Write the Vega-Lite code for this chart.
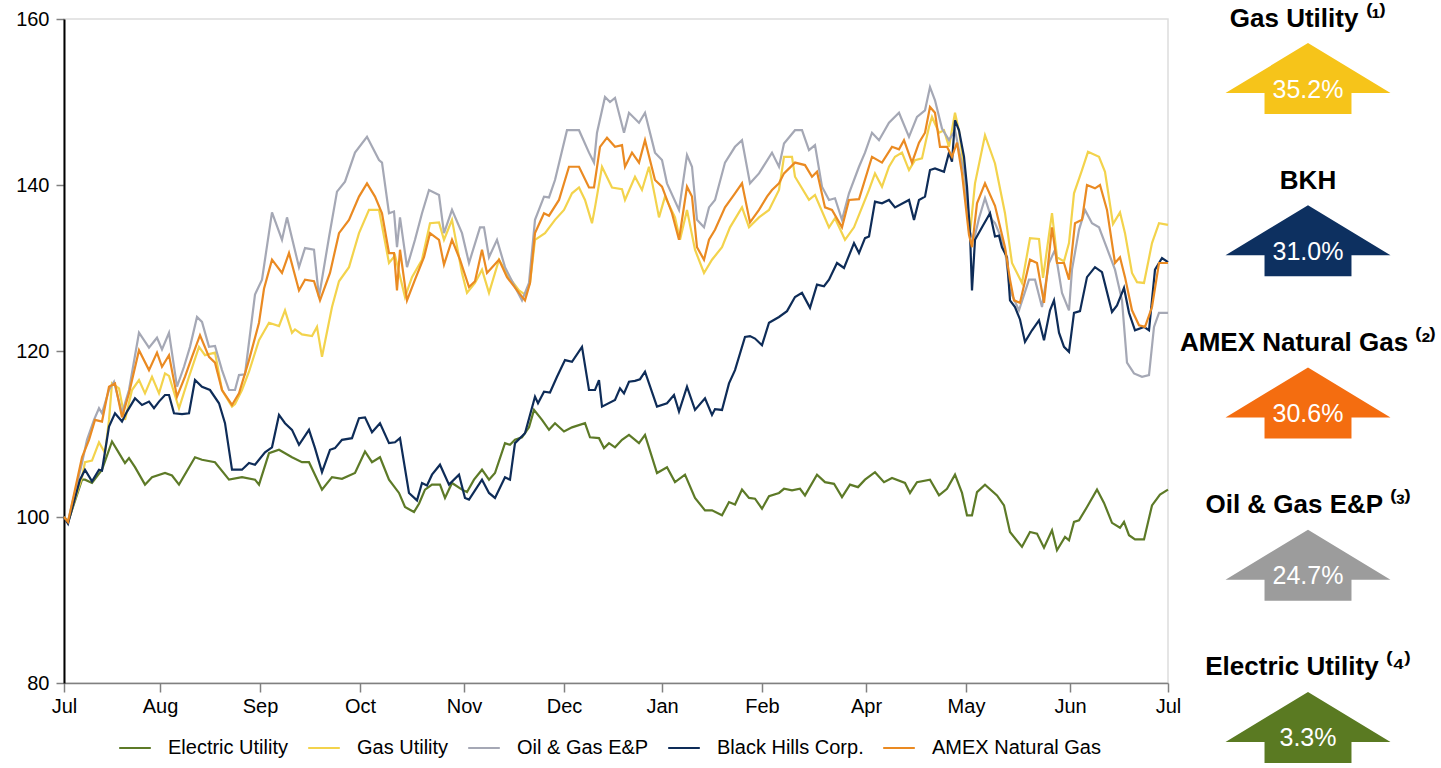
{
"$schema": "https://vega.github.io/schema/vega-lite/v6.json",
"padding": {"left": 14, "top": 5, "right": 0, "bottom": 0},
"background": "white",
"spacing": 10,
"bounds": "flush",
"config": {
 "font": "Liberation Sans",
 "view": {"stroke": "#dddddd", "strokeWidth": 1.5},
 "axis": {"labelFont": "Liberation Sans", "labelFontSize": 20, "labelColor": "#000000", "grid": false, "title": null}
},
"resolve": {"scale": {"color": "independent"}},
"datasets": {
"lines": [
{"series":"Electric Utility","month":0,"index":100},{"series":"Electric Utility","month":0.04,"index":99.4},{"series":"Electric Utility","month":0.18,"index":104.5},{"series":"Electric Utility","month":0.21,"index":104.5},{"series":"Electric Utility","month":0.28,"index":104.1},{"series":"Electric Utility","month":0.38,"index":105.7},{"series":"Electric Utility","month":0.48,"index":109.1},{"series":"Electric Utility","month":0.55,"index":107.7},{"series":"Electric Utility","month":0.61,"index":106.5},{"series":"Electric Utility","month":0.65,"index":107.1},{"series":"Electric Utility","month":0.71,"index":106.0},{"series":"Electric Utility","month":0.81,"index":103.9},{"series":"Electric Utility","month":0.88,"index":104.8},{"series":"Electric Utility","month":1.01,"index":105.3},{"series":"Electric Utility","month":1.08,"index":105.0},{"series":"Electric Utility","month":1.15,"index":103.9},{"series":"Electric Utility","month":1.31,"index":107.2},{"series":"Electric Utility","month":1.38,"index":106.9},{"series":"Electric Utility","month":1.51,"index":106.6},{"series":"Electric Utility","month":1.65,"index":104.5},{"series":"Electric Utility","month":1.78,"index":104.8},{"series":"Electric Utility","month":1.91,"index":104.5},{"series":"Electric Utility","month":1.95,"index":103.9},{"series":"Electric Utility","month":2.05,"index":107.7},{"series":"Electric Utility","month":2.15,"index":108.1},{"series":"Electric Utility","month":2.28,"index":107.2},{"series":"Electric Utility","month":2.38,"index":106.6},{"series":"Electric Utility","month":2.45,"index":106.6},{"series":"Electric Utility","month":2.58,"index":103.3},{"series":"Electric Utility","month":2.68,"index":104.8},{"series":"Electric Utility","month":2.78,"index":104.6},{"series":"Electric Utility","month":2.91,"index":105.3},{"series":"Electric Utility","month":3.01,"index":107.9},{"series":"Electric Utility","month":3.08,"index":106.6},{"series":"Electric Utility","month":3.16,"index":107.2},{"series":"Electric Utility","month":3.25,"index":104.5},{"series":"Electric Utility","month":3.35,"index":102.9},{"series":"Electric Utility","month":3.41,"index":101.2},{"series":"Electric Utility","month":3.50,"index":100.6},{"series":"Electric Utility","month":3.55,"index":101.6},{"series":"Electric Utility","month":3.61,"index":103.3},{"series":"Electric Utility","month":3.68,"index":103.9},{"series":"Electric Utility","month":3.76,"index":103.9},{"series":"Electric Utility","month":3.81,"index":102.3},{"series":"Electric Utility","month":3.88,"index":104.1},{"series":"Electric Utility","month":3.98,"index":103.3},{"series":"Electric Utility","month":4.03,"index":103.0},{"series":"Electric Utility","month":4.10,"index":104.5},{"series":"Electric Utility","month":4.18,"index":105.7},{"series":"Electric Utility","month":4.25,"index":104.5},{"series":"Electric Utility","month":4.31,"index":105.3},{"series":"Electric Utility","month":4.41,"index":108.9},{"series":"Electric Utility","month":4.46,"index":108.7},{"series":"Electric Utility","month":4.51,"index":109.3},{"series":"Electric Utility","month":4.58,"index":109.6},{"series":"Electric Utility","month":4.65,"index":110.8},{"series":"Electric Utility","month":4.70,"index":112.9},{"series":"Electric Utility","month":4.78,"index":111.7},{"series":"Electric Utility","month":4.85,"index":110.5},{"series":"Electric Utility","month":4.91,"index":111.3},{"series":"Electric Utility","month":5.00,"index":110.3},{"series":"Electric Utility","month":5.08,"index":110.8},{"series":"Electric Utility","month":5.21,"index":111.3},{"series":"Electric Utility","month":5.26,"index":109.6},{"series":"Electric Utility","month":5.35,"index":109.5},{"series":"Electric Utility","month":5.40,"index":108.3},{"series":"Electric Utility","month":5.45,"index":108.9},{"series":"Electric Utility","month":5.51,"index":108.4},{"series":"Electric Utility","month":5.58,"index":109.3},{"series":"Electric Utility","month":5.65,"index":109.9},{"series":"Electric Utility","month":5.75,"index":108.9},{"series":"Electric Utility","month":5.81,"index":109.9},{"series":"Electric Utility","month":5.93,"index":105.3},{"series":"Electric Utility","month":6.03,"index":106.0},{"series":"Electric Utility","month":6.11,"index":104.2},{"series":"Electric Utility","month":6.21,"index":105.1},{"series":"Electric Utility","month":6.31,"index":102.3},{"series":"Electric Utility","month":6.41,"index":100.8},{"series":"Electric Utility","month":6.48,"index":100.8},{"series":"Electric Utility","month":6.58,"index":100.2},{"series":"Electric Utility","month":6.65,"index":101.8},{"series":"Electric Utility","month":6.71,"index":101.5},{"series":"Electric Utility","month":6.78,"index":103.3},{"series":"Electric Utility","month":6.85,"index":102.3},{"series":"Electric Utility","month":6.91,"index":102.2},{"series":"Electric Utility","month":6.98,"index":101.0},{"series":"Electric Utility","month":7.05,"index":102.5},{"series":"Electric Utility","month":7.15,"index":102.9},{"series":"Electric Utility","month":7.20,"index":103.4},{"series":"Electric Utility","month":7.28,"index":103.2},{"series":"Electric Utility","month":7.36,"index":103.4},{"series":"Electric Utility","month":7.41,"index":102.6},{"series":"Electric Utility","month":7.53,"index":105.1},{"series":"Electric Utility","month":7.61,"index":104.2},{"series":"Electric Utility","month":7.70,"index":104.0},{"series":"Electric Utility","month":7.78,"index":102.4},{"series":"Electric Utility","month":7.86,"index":103.9},{"series":"Electric Utility","month":7.94,"index":103.6},{"series":"Electric Utility","month":8.01,"index":104.5},{"series":"Electric Utility","month":8.11,"index":105.4},{"series":"Electric Utility","month":8.20,"index":104.2},{"series":"Electric Utility","month":8.28,"index":104.7},{"series":"Electric Utility","month":8.41,"index":104.1},{"series":"Electric Utility","month":8.46,"index":102.9},{"series":"Electric Utility","month":8.53,"index":104.2},{"series":"Electric Utility","month":8.66,"index":104.5},{"series":"Electric Utility","month":8.75,"index":102.6},{"series":"Electric Utility","month":8.83,"index":103.4},{"series":"Electric Utility","month":8.91,"index":105.1},{"series":"Electric Utility","month":8.98,"index":102.9},{"series":"Electric Utility","month":9.03,"index":100.2},{"series":"Electric Utility","month":9.08,"index":100.2},{"series":"Electric Utility","month":9.13,"index":103.0},{"series":"Electric Utility","month":9.21,"index":103.9},{"series":"Electric Utility","month":9.33,"index":102.6},{"series":"Electric Utility","month":9.40,"index":101.4},{"series":"Electric Utility","month":9.46,"index":98.2},{"series":"Electric Utility","month":9.58,"index":96.4},{"series":"Electric Utility","month":9.66,"index":98.2},{"series":"Electric Utility","month":9.73,"index":98.0},{"series":"Electric Utility","month":9.80,"index":96.3},{"series":"Electric Utility","month":9.88,"index":98.4},{"series":"Electric Utility","month":9.93,"index":96.0},{"series":"Electric Utility","month":10.01,"index":97.6},{"series":"Electric Utility","month":10.05,"index":97.2},{"series":"Electric Utility","month":10.10,"index":99.4},{"series":"Electric Utility","month":10.15,"index":99.6},{"series":"Electric Utility","month":10.23,"index":101.2},{"series":"Electric Utility","month":10.33,"index":103.3},{"series":"Electric Utility","month":10.40,"index":101.7},{"series":"Electric Utility","month":10.48,"index":99.3},{"series":"Electric Utility","month":10.56,"index":98.7},{"series":"Electric Utility","month":10.60,"index":99.4},{"series":"Electric Utility","month":10.65,"index":97.8},{"series":"Electric Utility","month":10.71,"index":97.3},{"series":"Electric Utility","month":10.80,"index":97.3},{"series":"Electric Utility","month":10.88,"index":101.4},{"series":"Electric Utility","month":10.96,"index":102.7},{"series":"Electric Utility","month":11.04,"index":103.3},
{"series":"Gas Utility","month":0,"index":100},{"series":"Gas Utility","month":0.04,"index":99.5},{"series":"Gas Utility","month":0.18,"index":104.8},{"series":"Gas Utility","month":0.21,"index":106.6},{"series":"Gas Utility","month":0.28,"index":106.8},{"series":"Gas Utility","month":0.35,"index":109.0},{"series":"Gas Utility","month":0.41,"index":107.7},{"series":"Gas Utility","month":0.45,"index":111.7},{"series":"Gas Utility","month":0.48,"index":116.1},{"series":"Gas Utility","month":0.55,"index":115.5},{"series":"Gas Utility","month":0.61,"index":111.7},{"series":"Gas Utility","month":0.68,"index":115.3},{"series":"Gas Utility","month":0.75,"index":116.5},{"series":"Gas Utility","month":0.81,"index":114.9},{"series":"Gas Utility","month":0.88,"index":116.9},{"series":"Gas Utility","month":0.95,"index":114.9},{"series":"Gas Utility","month":1.01,"index":117.3},{"series":"Gas Utility","month":1.05,"index":117.0},{"series":"Gas Utility","month":1.15,"index":113.1},{"series":"Gas Utility","month":1.25,"index":116.9},{"series":"Gas Utility","month":1.35,"index":120.5},{"series":"Gas Utility","month":1.41,"index":119.5},{"series":"Gas Utility","month":1.51,"index":119.8},{"series":"Gas Utility","month":1.58,"index":115.3},{"series":"Gas Utility","month":1.68,"index":113.3},{"series":"Gas Utility","month":1.71,"index":113.6},{"series":"Gas Utility","month":1.78,"index":115.3},{"series":"Gas Utility","month":1.85,"index":117.5},{"series":"Gas Utility","month":1.95,"index":121.3},{"series":"Gas Utility","month":2.05,"index":123.4},{"series":"Gas Utility","month":2.15,"index":123.0},{"series":"Gas Utility","month":2.21,"index":124.9},{"series":"Gas Utility","month":2.28,"index":122.2},{"series":"Gas Utility","month":2.31,"index":122.6},{"series":"Gas Utility","month":2.38,"index":122.0},{"series":"Gas Utility","month":2.48,"index":121.8},{"series":"Gas Utility","month":2.53,"index":122.9},{"series":"Gas Utility","month":2.58,"index":119.3},{"series":"Gas Utility","month":2.68,"index":125.3},{"series":"Gas Utility","month":2.75,"index":128.4},{"series":"Gas Utility","month":2.85,"index":130.1},{"series":"Gas Utility","month":2.95,"index":134.2},{"series":"Gas Utility","month":3.05,"index":137.0},{"series":"Gas Utility","month":3.15,"index":137.0},{"series":"Gas Utility","month":3.25,"index":130.6},{"series":"Gas Utility","month":3.31,"index":131.5},{"series":"Gas Utility","month":3.41,"index":126.5},{"series":"Gas Utility","month":3.48,"index":128.9},{"series":"Gas Utility","month":3.58,"index":131.0},{"series":"Gas Utility","month":3.66,"index":135.4},{"series":"Gas Utility","month":3.75,"index":135.5},{"series":"Gas Utility","month":3.80,"index":133.4},{"series":"Gas Utility","month":3.88,"index":135.8},{"series":"Gas Utility","month":3.98,"index":129.4},{"series":"Gas Utility","month":4.03,"index":127.0},{"series":"Gas Utility","month":4.11,"index":128.2},{"series":"Gas Utility","month":4.18,"index":129.8},{"series":"Gas Utility","month":4.25,"index":127.0},{"series":"Gas Utility","month":4.35,"index":131.0},{"series":"Gas Utility","month":4.45,"index":128.9},{"series":"Gas Utility","month":4.55,"index":127.3},{"series":"Gas Utility","month":4.61,"index":126.8},{"series":"Gas Utility","month":4.66,"index":128.2},{"series":"Gas Utility","month":4.71,"index":133.4},{"series":"Gas Utility","month":4.81,"index":134.2},{"series":"Gas Utility","month":4.91,"index":135.8},{"series":"Gas Utility","month":5.00,"index":137.0},{"series":"Gas Utility","month":5.08,"index":139.0},{"series":"Gas Utility","month":5.15,"index":139.7},{"series":"Gas Utility","month":5.21,"index":138.2},{"series":"Gas Utility","month":5.28,"index":135.4},{"series":"Gas Utility","month":5.31,"index":137.3},{"series":"Gas Utility","month":5.38,"index":142.2},{"series":"Gas Utility","month":5.48,"index":139.7},{"series":"Gas Utility","month":5.58,"index":139.5},{"series":"Gas Utility","month":5.61,"index":138.2},{"series":"Gas Utility","month":5.71,"index":141.0},{"series":"Gas Utility","month":5.78,"index":139.4},{"series":"Gas Utility","month":5.85,"index":142.2},{"series":"Gas Utility","month":5.91,"index":138.6},{"series":"Gas Utility","month":5.95,"index":136.1},{"series":"Gas Utility","month":6.01,"index":138.6},{"series":"Gas Utility","month":6.11,"index":136.1},{"series":"Gas Utility","month":6.16,"index":133.4},{"series":"Gas Utility","month":6.23,"index":137.0},{"series":"Gas Utility","month":6.31,"index":132.2},{"series":"Gas Utility","month":6.40,"index":129.4},{"series":"Gas Utility","month":6.48,"index":131.0},{"series":"Gas Utility","month":6.58,"index":132.5},{"series":"Gas Utility","month":6.66,"index":134.9},{"series":"Gas Utility","month":6.78,"index":137.3},{"series":"Gas Utility","month":6.85,"index":134.9},{"series":"Gas Utility","month":6.95,"index":136.1},{"series":"Gas Utility","month":7.05,"index":137.0},{"series":"Gas Utility","month":7.15,"index":139.4},{"series":"Gas Utility","month":7.20,"index":143.4},{"series":"Gas Utility","month":7.28,"index":143.4},{"series":"Gas Utility","month":7.31,"index":141.0},{"series":"Gas Utility","month":7.45,"index":138.2},{"series":"Gas Utility","month":7.51,"index":138.8},{"series":"Gas Utility","month":7.65,"index":134.9},{"series":"Gas Utility","month":7.71,"index":136.0},{"series":"Gas Utility","month":7.81,"index":133.4},{"series":"Gas Utility","month":7.90,"index":134.9},{"series":"Gas Utility","month":7.98,"index":137.3},{"series":"Gas Utility","month":8.05,"index":139.4},{"series":"Gas Utility","month":8.11,"index":141.4},{"series":"Gas Utility","month":8.18,"index":139.8},{"series":"Gas Utility","month":8.25,"index":142.2},{"series":"Gas Utility","month":8.31,"index":143.4},{"series":"Gas Utility","month":8.38,"index":143.9},{"series":"Gas Utility","month":8.45,"index":141.8},{"series":"Gas Utility","month":8.51,"index":143.0},{"series":"Gas Utility","month":8.58,"index":143.2},{"series":"Gas Utility","month":8.65,"index":147.0},{"series":"Gas Utility","month":8.68,"index":148.2},{"series":"Gas Utility","month":8.75,"index":146.3},{"series":"Gas Utility","month":8.80,"index":146.6},{"series":"Gas Utility","month":8.85,"index":144.6},{"series":"Gas Utility","month":8.91,"index":148.7},{"series":"Gas Utility","month":8.95,"index":146.5},{"series":"Gas Utility","month":8.98,"index":143.9},{"series":"Gas Utility","month":9.06,"index":134.2},{"series":"Gas Utility","month":9.11,"index":140.2},{"series":"Gas Utility","month":9.21,"index":146.0},{"series":"Gas Utility","month":9.31,"index":142.6},{"series":"Gas Utility","month":9.41,"index":136.6},{"series":"Gas Utility","month":9.48,"index":130.6},{"series":"Gas Utility","month":9.58,"index":128.2},{"series":"Gas Utility","month":9.66,"index":133.6},{"series":"Gas Utility","month":9.75,"index":133.5},{"series":"Gas Utility","month":9.79,"index":128.8},{"series":"Gas Utility","month":9.88,"index":136.6},{"series":"Gas Utility","month":9.93,"index":131.3},{"series":"Gas Utility","month":10.00,"index":130.8},{"series":"Gas Utility","month":10.05,"index":133.0},{"series":"Gas Utility","month":10.10,"index":139.0},{"series":"Gas Utility","month":10.18,"index":141.8},{"series":"Gas Utility","month":10.24,"index":144.0},{"series":"Gas Utility","month":10.35,"index":143.4},{"series":"Gas Utility","month":10.41,"index":141.6},{"series":"Gas Utility","month":10.49,"index":135.3},{"series":"Gas Utility","month":10.56,"index":136.7},{"series":"Gas Utility","month":10.61,"index":134.2},{"series":"Gas Utility","month":10.68,"index":129.4},{"series":"Gas Utility","month":10.73,"index":128.3},{"series":"Gas Utility","month":10.80,"index":128.2},{"series":"Gas Utility","month":10.88,"index":133.0},{"series":"Gas Utility","month":10.95,"index":135.4},{"series":"Gas Utility","month":11.04,"index":135.2},
{"series":"Oil & Gas E&P","month":0,"index":100},{"series":"Oil & Gas E&P","month":0.04,"index":99.5},{"series":"Oil & Gas E&P","month":0.18,"index":106.5},{"series":"Oil & Gas E&P","month":0.23,"index":109.3},{"series":"Oil & Gas E&P","month":0.30,"index":111.7},{"series":"Oil & Gas E&P","month":0.35,"index":113.1},{"series":"Oil & Gas E&P","month":0.38,"index":112.5},{"series":"Oil & Gas E&P","month":0.45,"index":115.3},{"series":"Oil & Gas E&P","month":0.50,"index":116.3},{"series":"Oil & Gas E&P","month":0.58,"index":112.5},{"series":"Oil & Gas E&P","month":0.65,"index":115.3},{"series":"Oil & Gas E&P","month":0.75,"index":122.2},{"series":"Oil & Gas E&P","month":0.85,"index":120.4},{"series":"Oil & Gas E&P","month":0.93,"index":121.6},{"series":"Oil & Gas E&P","month":0.98,"index":120.2},{"series":"Oil & Gas E&P","month":1.05,"index":122.2},{"series":"Oil & Gas E&P","month":1.13,"index":115.7},{"series":"Oil & Gas E&P","month":1.20,"index":118.1},{"series":"Oil & Gas E&P","month":1.26,"index":120.5},{"series":"Oil & Gas E&P","month":1.33,"index":124.1},{"series":"Oil & Gas E&P","month":1.38,"index":123.5},{"series":"Oil & Gas E&P","month":1.45,"index":120.5},{"series":"Oil & Gas E&P","month":1.51,"index":120.6},{"series":"Oil & Gas E&P","month":1.58,"index":117.7},{"series":"Oil & Gas E&P","month":1.65,"index":115.3},{"series":"Oil & Gas E&P","month":1.71,"index":115.3},{"series":"Oil & Gas E&P","month":1.75,"index":117.1},{"series":"Oil & Gas E&P","month":1.81,"index":117.2},{"series":"Oil & Gas E&P","month":1.91,"index":126.8},{"series":"Oil & Gas E&P","month":1.98,"index":128.6},{"series":"Oil & Gas E&P","month":2.08,"index":136.7},{"series":"Oil & Gas E&P","month":2.18,"index":133.4},{"series":"Oil & Gas E&P","month":2.23,"index":136.1},{"series":"Oil & Gas E&P","month":2.35,"index":130.1},{"series":"Oil & Gas E&P","month":2.41,"index":132.4},{"series":"Oil & Gas E&P","month":2.50,"index":132.2},{"series":"Oil & Gas E&P","month":2.55,"index":126.5},{"series":"Oil & Gas E&P","month":2.65,"index":133.7},{"series":"Oil & Gas E&P","month":2.73,"index":139.2},{"series":"Oil & Gas E&P","month":2.81,"index":140.4},{"series":"Oil & Gas E&P","month":2.91,"index":143.9},{"series":"Oil & Gas E&P","month":3.03,"index":145.8},{"series":"Oil & Gas E&P","month":3.15,"index":143.0},{"series":"Oil & Gas E&P","month":3.18,"index":142.7},{"series":"Oil & Gas E&P","month":3.25,"index":136.6},{"series":"Oil & Gas E&P","month":3.30,"index":136.8},{"series":"Oil & Gas E&P","month":3.33,"index":132.5},{"series":"Oil & Gas E&P","month":3.36,"index":136.1},{"series":"Oil & Gas E&P","month":3.43,"index":130.1},{"series":"Oil & Gas E&P","month":3.51,"index":133.4},{"series":"Oil & Gas E&P","month":3.58,"index":136.6},{"series":"Oil & Gas E&P","month":3.65,"index":139.4},{"series":"Oil & Gas E&P","month":3.75,"index":138.8},{"series":"Oil & Gas E&P","month":3.80,"index":134.2},{"series":"Oil & Gas E&P","month":3.88,"index":137.0},{"series":"Oil & Gas E&P","month":3.98,"index":134.2},{"series":"Oil & Gas E&P","month":4.05,"index":130.6},{"series":"Oil & Gas E&P","month":4.16,"index":134.9},{"series":"Oil & Gas E&P","month":4.20,"index":134.9},{"series":"Oil & Gas E&P","month":4.25,"index":131.3},{"series":"Oil & Gas E&P","month":4.33,"index":133.4},{"series":"Oil & Gas E&P","month":4.41,"index":130.1},{"series":"Oil & Gas E&P","month":4.51,"index":127.7},{"series":"Oil & Gas E&P","month":4.58,"index":126.1},{"series":"Oil & Gas E&P","month":4.65,"index":128.2},{"series":"Oil & Gas E&P","month":4.71,"index":135.8},{"series":"Oil & Gas E&P","month":4.80,"index":138.6},{"series":"Oil & Gas E&P","month":4.85,"index":138.5},{"series":"Oil & Gas E&P","month":4.91,"index":140.6},{"series":"Oil & Gas E&P","month":5.03,"index":146.6},{"series":"Oil & Gas E&P","month":5.15,"index":146.6},{"series":"Oil & Gas E&P","month":5.25,"index":143.9},{"series":"Oil & Gas E&P","month":5.30,"index":142.7},{"series":"Oil & Gas E&P","month":5.33,"index":146.3},{"series":"Oil & Gas E&P","month":5.41,"index":150.6},{"series":"Oil & Gas E&P","month":5.46,"index":150.0},{"series":"Oil & Gas E&P","month":5.51,"index":150.5},{"series":"Oil & Gas E&P","month":5.60,"index":146.3},{"series":"Oil & Gas E&P","month":5.65,"index":148.7},{"series":"Oil & Gas E&P","month":5.75,"index":147.5},{"series":"Oil & Gas E&P","month":5.81,"index":148.7},{"series":"Oil & Gas E&P","month":5.91,"index":143.9},{"series":"Oil & Gas E&P","month":5.98,"index":143.0},{"series":"Oil & Gas E&P","month":6.03,"index":140.2},{"series":"Oil & Gas E&P","month":6.15,"index":137.0},{"series":"Oil & Gas E&P","month":6.23,"index":143.6},{"series":"Oil & Gas E&P","month":6.28,"index":142.2},{"series":"Oil & Gas E&P","month":6.33,"index":135.8},{"series":"Oil & Gas E&P","month":6.40,"index":134.9},{"series":"Oil & Gas E&P","month":6.45,"index":137.3},{"series":"Oil & Gas E&P","month":6.51,"index":138.2},{"series":"Oil & Gas E&P","month":6.61,"index":142.7},{"series":"Oil & Gas E&P","month":6.71,"index":144.6},{"series":"Oil & Gas E&P","month":6.78,"index":145.4},{"series":"Oil & Gas E&P","month":6.86,"index":140.2},{"series":"Oil & Gas E&P","month":6.95,"index":141.4},{"series":"Oil & Gas E&P","month":7.08,"index":143.9},{"series":"Oil & Gas E&P","month":7.15,"index":142.2},{"series":"Oil & Gas E&P","month":7.20,"index":145.0},{"series":"Oil & Gas E&P","month":7.31,"index":146.6},{"series":"Oil & Gas E&P","month":7.38,"index":146.6},{"series":"Oil & Gas E&P","month":7.45,"index":144.2},{"series":"Oil & Gas E&P","month":7.51,"index":144.8},{"series":"Oil & Gas E&P","month":7.58,"index":139.8},{"series":"Oil & Gas E&P","month":7.65,"index":138.2},{"series":"Oil & Gas E&P","month":7.71,"index":138.4},{"series":"Oil & Gas E&P","month":7.78,"index":135.8},{"series":"Oil & Gas E&P","month":7.85,"index":139.0},{"series":"Oil & Gas E&P","month":7.95,"index":142.2},{"series":"Oil & Gas E&P","month":8.01,"index":143.9},{"series":"Oil & Gas E&P","month":8.08,"index":146.3},{"series":"Oil & Gas E&P","month":8.15,"index":145.4},{"series":"Oil & Gas E&P","month":8.25,"index":147.5},{"series":"Oil & Gas E&P","month":8.35,"index":148.7},{"series":"Oil & Gas E&P","month":8.45,"index":145.8},{"series":"Oil & Gas E&P","month":8.53,"index":148.2},{"series":"Oil & Gas E&P","month":8.61,"index":149.0},{"series":"Oil & Gas E&P","month":8.66,"index":151.8},{"series":"Oil & Gas E&P","month":8.71,"index":150.2},{"series":"Oil & Gas E&P","month":8.78,"index":146.8},{"series":"Oil & Gas E&P","month":8.85,"index":145.4},{"series":"Oil & Gas E&P","month":8.91,"index":146.6},{"series":"Oil & Gas E&P","month":8.96,"index":143.6},{"series":"Oil & Gas E&P","month":9.01,"index":141.0},{"series":"Oil & Gas E&P","month":9.05,"index":134.5},{"series":"Oil & Gas E&P","month":9.10,"index":133.4},{"series":"Oil & Gas E&P","month":9.15,"index":136.0},{"series":"Oil & Gas E&P","month":9.21,"index":138.4},{"series":"Oil & Gas E&P","month":9.28,"index":135.8},{"series":"Oil & Gas E&P","month":9.31,"index":135.4},{"series":"Oil & Gas E&P","month":9.38,"index":133.4},{"series":"Oil & Gas E&P","month":9.41,"index":132.2},{"series":"Oil & Gas E&P","month":9.46,"index":127.3},{"series":"Oil & Gas E&P","month":9.55,"index":124.9},{"series":"Oil & Gas E&P","month":9.65,"index":128.6},{"series":"Oil & Gas E&P","month":9.71,"index":128.6},{"series":"Oil & Gas E&P","month":9.78,"index":125.3},{"series":"Oil & Gas E&P","month":9.85,"index":130.6},{"series":"Oil & Gas E&P","month":9.91,"index":132.2},{"series":"Oil & Gas E&P","month":9.98,"index":127.0},{"series":"Oil & Gas E&P","month":10.05,"index":124.9},{"series":"Oil & Gas E&P","month":10.08,"index":129.8},{"series":"Oil & Gas E&P","month":10.15,"index":134.6},{"series":"Oil & Gas E&P","month":10.21,"index":137.0},{"series":"Oil & Gas E&P","month":10.28,"index":135.4},{"series":"Oil & Gas E&P","month":10.35,"index":134.9},{"series":"Oil & Gas E&P","month":10.41,"index":133.0},{"series":"Oil & Gas E&P","month":10.51,"index":129.8},{"series":"Oil & Gas E&P","month":10.58,"index":126.1},{"series":"Oil & Gas E&P","month":10.63,"index":118.6},{"series":"Oil & Gas E&P","month":10.70,"index":117.3},{"series":"Oil & Gas E&P","month":10.78,"index":116.9},{"series":"Oil & Gas E&P","month":10.85,"index":117.1},{"series":"Oil & Gas E&P","month":10.90,"index":122.9},{"series":"Oil & Gas E&P","month":10.95,"index":124.6},{"series":"Oil & Gas E&P","month":11.04,"index":124.6},
{"series":"Black Hills Corp.","month":0,"index":100},{"series":"Black Hills Corp.","month":0.04,"index":99.2},{"series":"Black Hills Corp.","month":0.16,"index":104.5},{"series":"Black Hills Corp.","month":0.21,"index":105.7},{"series":"Black Hills Corp.","month":0.28,"index":104.3},{"series":"Black Hills Corp.","month":0.35,"index":105.7},{"series":"Black Hills Corp.","month":0.38,"index":105.6},{"series":"Black Hills Corp.","month":0.45,"index":110.9},{"series":"Black Hills Corp.","month":0.51,"index":112.5},{"series":"Black Hills Corp.","month":0.58,"index":111.5},{"series":"Black Hills Corp.","month":0.63,"index":112.7},{"series":"Black Hills Corp.","month":0.71,"index":114.3},{"series":"Black Hills Corp.","month":0.78,"index":113.5},{"series":"Black Hills Corp.","month":0.85,"index":113.9},{"series":"Black Hills Corp.","month":0.90,"index":113.1},{"series":"Black Hills Corp.","month":0.95,"index":113.9},{"series":"Black Hills Corp.","month":1.01,"index":114.7},{"series":"Black Hills Corp.","month":1.05,"index":114.7},{"series":"Black Hills Corp.","month":1.10,"index":112.5},{"series":"Black Hills Corp.","month":1.18,"index":112.4},{"series":"Black Hills Corp.","month":1.25,"index":112.5},{"series":"Black Hills Corp.","month":1.31,"index":116.5},{"series":"Black Hills Corp.","month":1.38,"index":115.7},{"series":"Black Hills Corp.","month":1.46,"index":115.3},{"series":"Black Hills Corp.","month":1.55,"index":113.7},{"series":"Black Hills Corp.","month":1.61,"index":111.3},{"series":"Black Hills Corp.","month":1.68,"index":105.7},{"series":"Black Hills Corp.","month":1.78,"index":105.7},{"series":"Black Hills Corp.","month":1.85,"index":106.5},{"series":"Black Hills Corp.","month":1.91,"index":106.3},{"series":"Black Hills Corp.","month":2.01,"index":107.8},{"series":"Black Hills Corp.","month":2.08,"index":108.4},{"series":"Black Hills Corp.","month":2.15,"index":112.3},{"series":"Black Hills Corp.","month":2.21,"index":111.3},{"series":"Black Hills Corp.","month":2.28,"index":110.5},{"series":"Black Hills Corp.","month":2.35,"index":108.7},{"series":"Black Hills Corp.","month":2.45,"index":110.5},{"series":"Black Hills Corp.","month":2.51,"index":108.3},{"series":"Black Hills Corp.","month":2.58,"index":105.4},{"series":"Black Hills Corp.","month":2.66,"index":108.1},{"series":"Black Hills Corp.","month":2.71,"index":108.3},{"series":"Black Hills Corp.","month":2.78,"index":109.3},{"series":"Black Hills Corp.","month":2.88,"index":109.5},{"series":"Black Hills Corp.","month":2.95,"index":111.9},{"series":"Black Hills Corp.","month":3.01,"index":112.0},{"series":"Black Hills Corp.","month":3.08,"index":110.2},{"series":"Black Hills Corp.","month":3.16,"index":111.3},{"series":"Black Hills Corp.","month":3.25,"index":108.9},{"series":"Black Hills Corp.","month":3.31,"index":109.0},{"series":"Black Hills Corp.","month":3.36,"index":109.5},{"series":"Black Hills Corp.","month":3.45,"index":102.9},{"series":"Black Hills Corp.","month":3.53,"index":102.0},{"series":"Black Hills Corp.","month":3.58,"index":104.1},{"series":"Black Hills Corp.","month":3.63,"index":103.8},{"series":"Black Hills Corp.","month":3.68,"index":105.1},{"series":"Black Hills Corp.","month":3.76,"index":106.3},{"series":"Black Hills Corp.","month":3.85,"index":103.9},{"series":"Black Hills Corp.","month":3.95,"index":105.1},{"series":"Black Hills Corp.","month":4.01,"index":102.3},{"series":"Black Hills Corp.","month":4.05,"index":102.1},{"series":"Black Hills Corp.","month":4.18,"index":104.5},{"series":"Black Hills Corp.","month":4.25,"index":102.9},{"series":"Black Hills Corp.","month":4.31,"index":102.3},{"series":"Black Hills Corp.","month":4.41,"index":104.8},{"series":"Black Hills Corp.","month":4.46,"index":104.5},{"series":"Black Hills Corp.","month":4.51,"index":108.9},{"series":"Black Hills Corp.","month":4.61,"index":110.1},{"series":"Black Hills Corp.","month":4.71,"index":114.5},{"series":"Black Hills Corp.","month":4.74,"index":113.7},{"series":"Black Hills Corp.","month":4.80,"index":115.1},{"series":"Black Hills Corp.","month":4.86,"index":115.0},{"series":"Black Hills Corp.","month":4.93,"index":116.9},{"series":"Black Hills Corp.","month":5.01,"index":118.9},{"series":"Black Hills Corp.","month":5.08,"index":118.7},{"series":"Black Hills Corp.","month":5.18,"index":120.5},{"series":"Black Hills Corp.","month":5.25,"index":115.3},{"series":"Black Hills Corp.","month":5.31,"index":115.3},{"series":"Black Hills Corp.","month":5.35,"index":116.5},{"series":"Black Hills Corp.","month":5.38,"index":113.3},{"series":"Black Hills Corp.","month":5.51,"index":114.1},{"series":"Black Hills Corp.","month":5.56,"index":115.5},{"series":"Black Hills Corp.","month":5.60,"index":114.9},{"series":"Black Hills Corp.","month":5.65,"index":116.3},{"series":"Black Hills Corp.","month":5.71,"index":116.4},{"series":"Black Hills Corp.","month":5.76,"index":116.6},{"series":"Black Hills Corp.","month":5.81,"index":117.5},{"series":"Black Hills Corp.","month":5.93,"index":113.3},{"series":"Black Hills Corp.","month":6.03,"index":113.7},{"series":"Black Hills Corp.","month":6.10,"index":114.7},{"series":"Black Hills Corp.","month":6.15,"index":112.7},{"series":"Black Hills Corp.","month":6.23,"index":115.7},{"series":"Black Hills Corp.","month":6.31,"index":112.9},{"series":"Black Hills Corp.","month":6.41,"index":114.3},{"series":"Black Hills Corp.","month":6.48,"index":112.3},{"series":"Black Hills Corp.","month":6.51,"index":113.0},{"series":"Black Hills Corp.","month":6.58,"index":112.9},{"series":"Black Hills Corp.","month":6.65,"index":116.1},{"series":"Black Hills Corp.","month":6.71,"index":117.7},{"series":"Black Hills Corp.","month":6.81,"index":121.7},{"series":"Black Hills Corp.","month":6.86,"index":121.8},{"series":"Black Hills Corp.","month":6.91,"index":121.5},{"series":"Black Hills Corp.","month":6.98,"index":120.7},{"series":"Black Hills Corp.","month":7.05,"index":123.4},{"series":"Black Hills Corp.","month":7.15,"index":124.1},{"series":"Black Hills Corp.","month":7.23,"index":124.8},{"series":"Black Hills Corp.","month":7.31,"index":126.5},{"series":"Black Hills Corp.","month":7.38,"index":127.0},{"series":"Black Hills Corp.","month":7.46,"index":125.2},{"series":"Black Hills Corp.","month":7.53,"index":128.0},{"series":"Black Hills Corp.","month":7.60,"index":127.8},{"series":"Black Hills Corp.","month":7.65,"index":128.6},{"series":"Black Hills Corp.","month":7.73,"index":130.6},{"series":"Black Hills Corp.","month":7.80,"index":130.0},{"series":"Black Hills Corp.","month":7.90,"index":133.0},{"series":"Black Hills Corp.","month":7.95,"index":131.8},{"series":"Black Hills Corp.","month":8.01,"index":133.6},{"series":"Black Hills Corp.","month":8.05,"index":133.8},{"series":"Black Hills Corp.","month":8.11,"index":138.0},{"series":"Black Hills Corp.","month":8.18,"index":137.8},{"series":"Black Hills Corp.","month":8.25,"index":138.2},{"series":"Black Hills Corp.","month":8.31,"index":137.3},{"series":"Black Hills Corp.","month":8.45,"index":138.2},{"series":"Black Hills Corp.","month":8.50,"index":135.8},{"series":"Black Hills Corp.","month":8.55,"index":138.2},{"series":"Black Hills Corp.","month":8.61,"index":138.6},{"series":"Black Hills Corp.","month":8.66,"index":141.8},{"series":"Black Hills Corp.","month":8.71,"index":142.0},{"series":"Black Hills Corp.","month":8.80,"index":141.6},{"series":"Black Hills Corp.","month":8.85,"index":143.9},{"series":"Black Hills Corp.","month":8.88,"index":142.8},{"series":"Black Hills Corp.","month":8.91,"index":147.8},{"series":"Black Hills Corp.","month":8.95,"index":146.6},{"series":"Black Hills Corp.","month":9.00,"index":143.4},{"series":"Black Hills Corp.","month":9.03,"index":139.8},{"series":"Black Hills Corp.","month":9.06,"index":134.2},{"series":"Black Hills Corp.","month":9.08,"index":127.3},{"series":"Black Hills Corp.","month":9.11,"index":133.4},{"series":"Black Hills Corp.","month":9.18,"index":134.9},{"series":"Black Hills Corp.","month":9.26,"index":136.6},{"series":"Black Hills Corp.","month":9.31,"index":133.8},{"series":"Black Hills Corp.","month":9.35,"index":133.9},{"series":"Black Hills Corp.","month":9.38,"index":132.5},{"series":"Black Hills Corp.","month":9.43,"index":131.3},{"series":"Black Hills Corp.","month":9.46,"index":126.1},{"series":"Black Hills Corp.","month":9.51,"index":125.3},{"series":"Black Hills Corp.","month":9.56,"index":123.8},{"series":"Black Hills Corp.","month":9.61,"index":121.1},{"series":"Black Hills Corp.","month":9.68,"index":122.5},{"series":"Black Hills Corp.","month":9.75,"index":123.7},{"series":"Black Hills Corp.","month":9.80,"index":121.3},{"series":"Black Hills Corp.","month":9.86,"index":124.9},{"series":"Black Hills Corp.","month":9.90,"index":126.1},{"series":"Black Hills Corp.","month":9.95,"index":122.2},{"series":"Black Hills Corp.","month":10.00,"index":120.5},{"series":"Black Hills Corp.","month":10.05,"index":119.9},{"series":"Black Hills Corp.","month":10.10,"index":124.6},{"series":"Black Hills Corp.","month":10.16,"index":124.8},{"series":"Black Hills Corp.","month":10.23,"index":128.9},{"series":"Black Hills Corp.","month":10.31,"index":130.1},{"series":"Black Hills Corp.","month":10.38,"index":129.5},{"series":"Black Hills Corp.","month":10.48,"index":124.7},{"series":"Black Hills Corp.","month":10.53,"index":125.5},{"series":"Black Hills Corp.","month":10.60,"index":127.6},{"series":"Black Hills Corp.","month":10.65,"index":124.6},{"series":"Black Hills Corp.","month":10.71,"index":122.5},{"series":"Black Hills Corp.","month":10.80,"index":122.9},{"series":"Black Hills Corp.","month":10.85,"index":122.5},{"series":"Black Hills Corp.","month":10.91,"index":129.8},{"series":"Black Hills Corp.","month":10.98,"index":131.2},{"series":"Black Hills Corp.","month":11.04,"index":130.7},
{"series":"AMEX Natural Gas","month":0,"index":100},{"series":"AMEX Natural Gas","month":0.04,"index":99.4},{"series":"AMEX Natural Gas","month":0.18,"index":107.2},{"series":"AMEX Natural Gas","month":0.25,"index":109.3},{"series":"AMEX Natural Gas","month":0.31,"index":111.7},{"series":"AMEX Natural Gas","month":0.38,"index":111.5},{"series":"AMEX Natural Gas","month":0.45,"index":115.7},{"series":"AMEX Natural Gas","month":0.51,"index":116.1},{"series":"AMEX Natural Gas","month":0.58,"index":112.0},{"series":"AMEX Natural Gas","month":0.65,"index":114.9},{"series":"AMEX Natural Gas","month":0.75,"index":120.1},{"series":"AMEX Natural Gas","month":0.85,"index":117.7},{"series":"AMEX Natural Gas","month":0.93,"index":119.8},{"series":"AMEX Natural Gas","month":0.98,"index":118.1},{"series":"AMEX Natural Gas","month":1.05,"index":119.5},{"series":"AMEX Natural Gas","month":1.13,"index":114.5},{"series":"AMEX Natural Gas","month":1.21,"index":116.9},{"series":"AMEX Natural Gas","month":1.28,"index":119.3},{"series":"AMEX Natural Gas","month":1.36,"index":121.9},{"series":"AMEX Natural Gas","month":1.45,"index":119.3},{"series":"AMEX Natural Gas","month":1.51,"index":118.6},{"series":"AMEX Natural Gas","month":1.58,"index":115.3},{"series":"AMEX Natural Gas","month":1.68,"index":113.5},{"series":"AMEX Natural Gas","month":1.75,"index":114.9},{"series":"AMEX Natural Gas","month":1.85,"index":118.9},{"series":"AMEX Natural Gas","month":1.95,"index":123.4},{"series":"AMEX Natural Gas","month":2.00,"index":127.5},{"series":"AMEX Natural Gas","month":2.08,"index":131.0},{"series":"AMEX Natural Gas","month":2.18,"index":129.4},{"series":"AMEX Natural Gas","month":2.25,"index":131.8},{"series":"AMEX Natural Gas","month":2.35,"index":127.3},{"series":"AMEX Natural Gas","month":2.41,"index":128.6},{"series":"AMEX Natural Gas","month":2.50,"index":128.4},{"series":"AMEX Natural Gas","month":2.56,"index":126.1},{"series":"AMEX Natural Gas","month":2.66,"index":129.4},{"series":"AMEX Natural Gas","month":2.75,"index":134.2},{"series":"AMEX Natural Gas","month":2.85,"index":135.8},{"series":"AMEX Natural Gas","month":2.95,"index":138.6},{"series":"AMEX Natural Gas","month":3.03,"index":140.2},{"series":"AMEX Natural Gas","month":3.11,"index":138.6},{"series":"AMEX Natural Gas","month":3.18,"index":136.6},{"series":"AMEX Natural Gas","month":3.25,"index":131.8},{"series":"AMEX Natural Gas","month":3.30,"index":131.8},{"series":"AMEX Natural Gas","month":3.33,"index":127.3},{"series":"AMEX Natural Gas","month":3.36,"index":132.2},{"series":"AMEX Natural Gas","month":3.43,"index":126.1},{"series":"AMEX Natural Gas","month":3.51,"index":128.6},{"series":"AMEX Natural Gas","month":3.60,"index":131.3},{"series":"AMEX Natural Gas","month":3.66,"index":134.2},{"series":"AMEX Natural Gas","month":3.75,"index":133.4},{"series":"AMEX Natural Gas","month":3.80,"index":130.4},{"series":"AMEX Natural Gas","month":3.88,"index":133.4},{"series":"AMEX Natural Gas","month":3.96,"index":131.0},{"series":"AMEX Natural Gas","month":4.05,"index":127.7},{"series":"AMEX Natural Gas","month":4.11,"index":128.4},{"series":"AMEX Natural Gas","month":4.18,"index":132.2},{"series":"AMEX Natural Gas","month":4.23,"index":129.4},{"series":"AMEX Natural Gas","month":4.35,"index":131.0},{"series":"AMEX Natural Gas","month":4.43,"index":128.9},{"series":"AMEX Natural Gas","month":4.55,"index":127.0},{"series":"AMEX Natural Gas","month":4.61,"index":126.1},{"series":"AMEX Natural Gas","month":4.66,"index":128.2},{"series":"AMEX Natural Gas","month":4.71,"index":134.2},{"series":"AMEX Natural Gas","month":4.80,"index":136.6},{"series":"AMEX Natural Gas","month":4.85,"index":136.3},{"series":"AMEX Natural Gas","month":4.95,"index":138.2},{"series":"AMEX Natural Gas","month":5.05,"index":142.2},{"series":"AMEX Natural Gas","month":5.15,"index":142.2},{"series":"AMEX Natural Gas","month":5.25,"index":139.7},{"series":"AMEX Natural Gas","month":5.30,"index":139.7},{"series":"AMEX Natural Gas","month":5.36,"index":144.6},{"series":"AMEX Natural Gas","month":5.43,"index":145.7},{"series":"AMEX Natural Gas","month":5.51,"index":144.6},{"series":"AMEX Natural Gas","month":5.58,"index":144.8},{"series":"AMEX Natural Gas","month":5.61,"index":142.2},{"series":"AMEX Natural Gas","month":5.68,"index":143.9},{"series":"AMEX Natural Gas","month":5.75,"index":142.7},{"series":"AMEX Natural Gas","month":5.81,"index":145.4},{"series":"AMEX Natural Gas","month":5.91,"index":140.6},{"series":"AMEX Natural Gas","month":5.98,"index":139.8},{"series":"AMEX Natural Gas","month":6.08,"index":136.6},{"series":"AMEX Natural Gas","month":6.15,"index":133.4},{"series":"AMEX Natural Gas","month":6.23,"index":139.8},{"series":"AMEX Natural Gas","month":6.28,"index":138.6},{"series":"AMEX Natural Gas","month":6.33,"index":132.5},{"series":"AMEX Natural Gas","month":6.40,"index":131.0},{"series":"AMEX Natural Gas","month":6.45,"index":133.4},{"series":"AMEX Natural Gas","month":6.51,"index":134.6},{"series":"AMEX Natural Gas","month":6.61,"index":137.3},{"series":"AMEX Natural Gas","month":6.71,"index":139.0},{"series":"AMEX Natural Gas","month":6.78,"index":140.2},{"series":"AMEX Natural Gas","month":6.86,"index":135.5},{"series":"AMEX Natural Gas","month":6.95,"index":137.0},{"series":"AMEX Natural Gas","month":7.03,"index":138.6},{"series":"AMEX Natural Gas","month":7.08,"index":139.4},{"series":"AMEX Natural Gas","month":7.15,"index":140.2},{"series":"AMEX Natural Gas","month":7.20,"index":141.4},{"series":"AMEX Natural Gas","month":7.31,"index":142.7},{"series":"AMEX Natural Gas","month":7.41,"index":142.4},{"series":"AMEX Natural Gas","month":7.48,"index":141.0},{"series":"AMEX Natural Gas","month":7.53,"index":141.6},{"series":"AMEX Natural Gas","month":7.61,"index":137.3},{"series":"AMEX Natural Gas","month":7.68,"index":137.0},{"series":"AMEX Natural Gas","month":7.78,"index":134.9},{"series":"AMEX Natural Gas","month":7.85,"index":138.2},{"series":"AMEX Natural Gas","month":7.95,"index":138.3},{"series":"AMEX Natural Gas","month":8.08,"index":143.4},{"series":"AMEX Natural Gas","month":8.18,"index":142.7},{"series":"AMEX Natural Gas","month":8.28,"index":144.6},{"series":"AMEX Natural Gas","month":8.35,"index":144.3},{"series":"AMEX Natural Gas","month":8.40,"index":145.4},{"series":"AMEX Natural Gas","month":8.48,"index":142.7},{"series":"AMEX Natural Gas","month":8.55,"index":145.1},{"series":"AMEX Natural Gas","month":8.61,"index":146.3},{"series":"AMEX Natural Gas","month":8.66,"index":149.4},{"series":"AMEX Natural Gas","month":8.71,"index":148.7},{"series":"AMEX Natural Gas","month":8.76,"index":144.6},{"series":"AMEX Natural Gas","month":8.83,"index":144.6},{"series":"AMEX Natural Gas","month":8.88,"index":143.4},{"series":"AMEX Natural Gas","month":8.93,"index":145.1},{"series":"AMEX Natural Gas","month":8.98,"index":141.4},{"series":"AMEX Natural Gas","month":9.05,"index":134.0},{"series":"AMEX Natural Gas","month":9.08,"index":132.5},{"series":"AMEX Natural Gas","month":9.13,"index":137.8},{"series":"AMEX Natural Gas","month":9.21,"index":140.2},{"series":"AMEX Natural Gas","month":9.31,"index":137.5},{"series":"AMEX Natural Gas","month":9.41,"index":132.5},{"series":"AMEX Natural Gas","month":9.46,"index":128.6},{"series":"AMEX Natural Gas","month":9.50,"index":126.1},{"series":"AMEX Natural Gas","month":9.56,"index":125.8},{"series":"AMEX Natural Gas","month":9.66,"index":131.0},{"series":"AMEX Natural Gas","month":9.73,"index":130.6},{"series":"AMEX Natural Gas","month":9.80,"index":125.8},{"series":"AMEX Natural Gas","month":9.88,"index":134.9},{"series":"AMEX Natural Gas","month":9.93,"index":130.6},{"series":"AMEX Natural Gas","month":10.00,"index":130.6},{"series":"AMEX Natural Gas","month":10.05,"index":128.6},{"series":"AMEX Natural Gas","month":10.11,"index":135.4},{"series":"AMEX Natural Gas","month":10.18,"index":135.8},{"series":"AMEX Natural Gas","month":10.23,"index":140.0},{"series":"AMEX Natural Gas","month":10.31,"index":139.6},{"series":"AMEX Natural Gas","month":10.36,"index":140.0},{"series":"AMEX Natural Gas","month":10.43,"index":137.0},{"series":"AMEX Natural Gas","month":10.51,"index":130.6},{"series":"AMEX Natural Gas","month":10.56,"index":131.3},{"series":"AMEX Natural Gas","month":10.61,"index":128.9},{"series":"AMEX Natural Gas","month":10.68,"index":124.9},{"series":"AMEX Natural Gas","month":10.75,"index":123.1},{"series":"AMEX Natural Gas","month":10.81,"index":122.9},{"series":"AMEX Natural Gas","month":10.88,"index":125.3},{"series":"AMEX Natural Gas","month":10.95,"index":130.6},{"series":"AMEX Natural Gas","month":11.04,"index":130.6}
],
"badges": [
{"name":"Gas Utility ⁽¹⁾","change":"35.2%"},
{"name":"BKH","change":"31.0%"},
{"name":"AMEX Natural Gas ⁽²⁾","change":"30.6%"},
{"name":"Oil & Gas E&P ⁽³⁾","change":"24.7%"},
{"name":"Electric Utility ⁽⁴⁾","change":"3.3%"}
]
},
"hconcat": [
{
 "width": 1104,
 "height": 664,
 "data": {"name": "lines"},
 "mark": {"type": "line", "strokeWidth": 2.2},
 "encoding": {
  "x": {"field": "month", "type": "quantitative",
   "scale": {"domain": [0, 11.04], "nice": false, "zero": false},
   "axis": {"values": [0, 0.96, 1.96, 2.96, 4, 5, 5.98, 6.98, 8.02, 9.02, 10.06, 11.04],
    "labelExpr": "['Jul','Aug','Sep','Oct','Nov','Dec','Jan','Feb','Apr','May','Jun','Jul'][round(datum.value)]",
    "domainColor": "#808080", "domainWidth": 1.5, "tickColor": "#808080", "tickWidth": 1.5, "tickSize": 9,
    "labelPadding": 4, "labelFlush": false, "labelOverlap": false}},
  "y": {"field": "index", "type": "quantitative",
   "scale": {"domain": [80, 160], "nice": false, "zero": false},
   "axis": {"values": [80, 100, 120, 140, 160], "domainColor": "#000000", "domainWidth": 2,
    "tickColor": "#808080", "tickWidth": 1.5, "tickSize": 8, "labelPadding": 7}},
  "color": {"field": "series", "type": "nominal",
   "sort": ["Electric Utility", "Gas Utility", "Oil & Gas E&P", "Black Hills Corp.", "AMEX Natural Gas"],
   "scale": {"domain": ["Electric Utility", "Gas Utility", "Oil & Gas E&P", "Black Hills Corp.", "AMEX Natural Gas"],
    "range": ["#5d7a27", "#f3d34c", "#a5a8b5", "#0e2c58", "#ea8a22"]},
   "legend": {"orient": "none", "legendX": 54, "legendY": 712, "direction": "horizontal", "title": null,
    "symbolType": "stroke", "symbolSize": 1000, "symbolStrokeWidth": 2, "labelFontSize": 20, "labelColor": "#000000",
    "labelOffset": 16, "columnPadding": 15, "labelLimit": 400}}
 }
},
{
 "width": 260,
 "height": 768,
 "view": {"stroke": null},
 "data": {"name": "badges"},
 "encoding": {
  "y": {"field": "name", "type": "nominal",
   "scale": {"type": "point", "padding": 0.367,
    "domain": ["Gas Utility ⁽¹⁾", "BKH", "AMEX Natural Gas ⁽²⁾", "Oil & Gas E&P ⁽³⁾", "Electric Utility ⁽⁴⁾"]},
   "axis": null}
 },
 "layer": [
  {"mark": {"type": "point", "shape": "M0,-0.43L1,0.176L0.527,0.176L0.527,0.43L-0.527,0.43L-0.527,0.176L-1,0.176Z",
    "size": 27225, "filled": true, "opacity": 1, "strokeWidth": 0},
   "encoding": {"color": {"field": "name", "type": "nominal",
    "scale": {"domain": ["Gas Utility ⁽¹⁾", "BKH", "AMEX Natural Gas ⁽²⁾", "Oil & Gas E&P ⁽³⁾", "Electric Utility ⁽⁴⁾"],
     "range": ["#f6c41a", "#0d3060", "#f46d10", "#9c9c9c", "#5a7a22"]}, "legend": null}}},
  {"mark": {"type": "text", "dy": 11, "fontSize": 25, "color": "#ffffff"},
   "encoding": {"text": {"field": "change"}}},
  {"mark": {"type": "text", "dy": -60, "fontSize": 26, "fontWeight": "bold", "color": "#000000"},
   "encoding": {"text": {"field": "name"}}}
 ]
}
]
}
